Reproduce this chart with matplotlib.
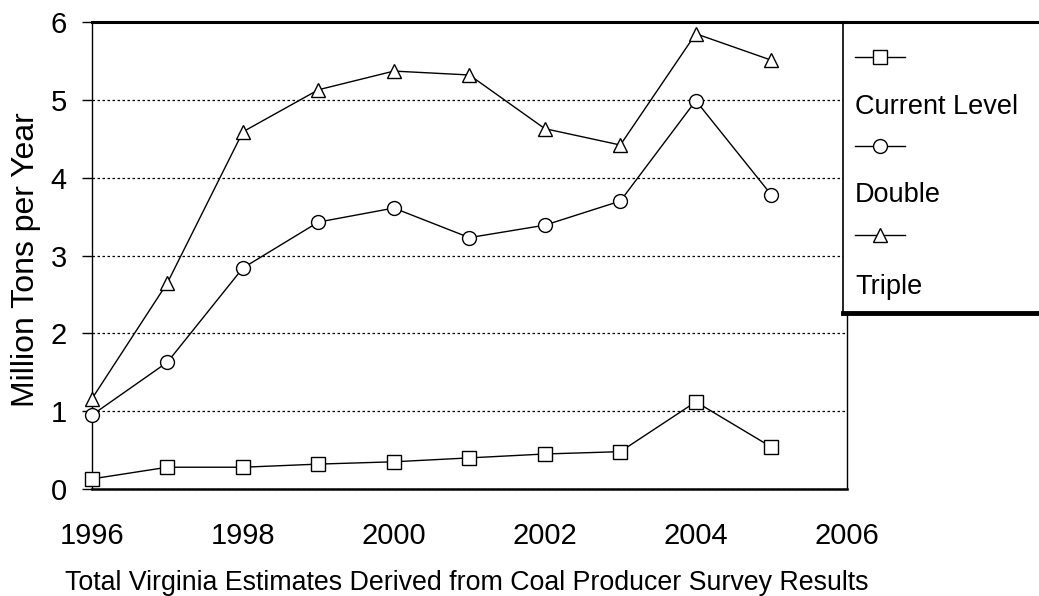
import matplotlib.pyplot as plt
from matplotlib.lines import Line2D
from matplotlib.patches import Rectangle

plt.rcParams['font.family'] = ['Liberation Sans', 'DejaVu Sans']

# Estimated coal production, million tons per year
years = [1996, 1997, 1998, 1999, 2000, 2001, 2002, 2003, 2004, 2005]
current_level = [0.13, 0.28, 0.28, 0.32, 0.35, 0.40, 0.45, 0.48, 1.12, 0.54]
double = [0.95, 1.63, 2.84, 3.43, 3.61, 3.23, 3.39, 3.70, 4.99, 3.78]
triple = [1.16, 2.65, 4.59, 5.13, 5.37, 5.32, 4.63, 4.42, 5.85, 5.51]

series_names = ['Current Level', 'Double', 'Triple']
series_markers = ['s', 'o', '^']
x_ticks = [1996, 1998, 2000, 2002, 2004, 2006]
y_ticks = [0, 1, 2, 3, 4, 5, 6]

fig = plt.figure(figsize=(10.39, 5.96), dpi=100)
ax = fig.add_axes([0.0885, 0.1795, 0.7265, 0.7835])

mk = dict(markersize=10, markerfacecolor='white', markeredgecolor='black',
          markeredgewidth=1.0, color='black', linewidth=1.0)
for vals, m in zip([current_level, double, triple], series_markers):
    ax.plot(years, vals, marker=m, clip_on=False, zorder=3, **mk)

ax.set_xlim(1996, 2006)
ax.set_ylim(0, 6)
ax.set_xticks(x_ticks)
ax.set_yticks(y_ticks)
ax.tick_params(axis='x', length=0, pad=24, labelsize=21)
ax.tick_params(axis='y', length=7, width=1, pad=11, labelsize=21)
ax.yaxis.grid(True, linestyle=(0, (2, 2)), color='black', linewidth=0.9)
ax.set_axisbelow(True)

ax.spines['top'].set_linewidth(2.2)
ax.spines['bottom'].set_linewidth(1.8)
ax.spines['left'].set_linewidth(1.0)
ax.spines['right'].set_linewidth(1.0)

fig.text(26 / 1039, 1 - 260 / 596, 'Million Tons per Year', fontsize=23,
         rotation=90, ha='center', va='center')
fig.text(467 / 1039, 1 - 583 / 596,
         'Total Virginia Estimates Derived from Coal Producer Survey Results',
         fontsize=19.3, ha='center', va='center')

# legend box: marker sample above each label, with a heavy bottom edge
lax = fig.add_axes([843 / 1039, 1 - 313 / 596, 200 / 1039, 291 / 596])
lax.set_xlim(0, 200)
lax.set_ylim(291, 0)
lax.axis('off')
lax.add_patch(Rectangle((0, 0), 200, 291, facecolor='white', edgecolor='black',
                        linewidth=1.2, clip_on=False))
lax.plot([0, 200], [291, 291], color='black', linewidth=3.5, clip_on=False)
lax.plot([0, 200], [0, 0], color='black', linewidth=2.2, clip_on=False)

handle_y = [35, 124, 213]
label_y = [85, 173, 265]
for name, m, hy, ly in zip(series_names, series_markers, handle_y, label_y):
    lax.add_line(Line2D([12, 37, 62], [hy, hy, hy], marker=m, markevery=[1], **mk))
    lax.text(12, ly, name, fontsize=19.5, va='center', ha='left')

fig.savefig('out.png', dpi=100)
